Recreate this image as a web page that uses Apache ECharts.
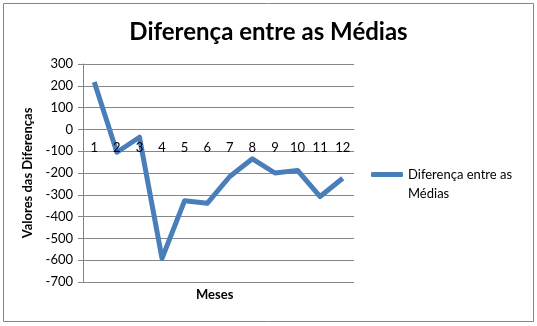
<!DOCTYPE html>
<html>
<head>
<meta charset="utf-8">
<script src="https://cdn.jsdelivr.net/npm/echarts@6/dist/echarts.min.js"></script>
<style>html,body{margin:0;padding:0;background:#fff}#c{width:537px;height:326px}</style>
</head>
<body>
<div id="c"></div>
<script>
var categories = ['1','2','3','4','5','6','7','8','9','10','11','12'];
var diferenca = [217, -105, -36, -592, -327, -339, -216, -135, -200, -188, -308, -224];
var seriesName = 'Diferença entre as Médias';
var titleText = 'Diferença entre as Médias';
var yName = 'Valores das Diferenças';
var xName = 'Meses';
var yMin = -700, yMax = 300, yStep = 100;

var FONT = 'Lato, "Open Sans", sans-serif';
var gridTop = 64, gridBottom = 44, H = 326;
var plotH = H - gridTop - gridBottom;
var zeroOffset = -plotH * (0 - yMin) / (yMax - yMin);

var chart = echarts.init(document.getElementById('c'), null, {renderer: 'canvas'});
chart.setOption({
  backgroundColor: '#fff',
  animation: false,
  title: {
    text: titleText, left: 'center', top: 15,
    textStyle: {fontFamily: FONT, fontSize: 24, fontWeight: 'bold', color: '#000'}
  },
  legend: {
    data: [seriesName], left: 371, top: 168, padding: 0,
    itemWidth: 32, itemHeight: 5,
    icon: 'roundRect',
    formatter: function () { return 'Diferença entre as'; },
    textStyle: {fontFamily: FONT, fontSize: 13, color: '#000'}
  },
  grid: {left: 83, right: 183, top: gridTop, bottom: gridBottom},
  xAxis: {
    type: 'category', data: categories, boundaryGap: true,
    position: 'bottom', offset: zeroOffset, z: 5,
    axisLine: {onZero: false, lineStyle: {color: '#868686', width: 1}},
    axisTick: {show: false},
    axisLabel: {fontFamily: FONT, fontSize: 13, color: '#000', margin: 12, interval: 0}
  },
  yAxis: {
    type: 'value', min: yMin, max: yMax, interval: yStep,
    axisLine: {show: true, lineStyle: {color: '#868686'}},
    axisTick: {show: true, length: 5, lineStyle: {color: '#868686'}},
    splitLine: {lineStyle: {color: '#868686', width: 1}},
    axisLabel: {fontFamily: FONT, fontSize: 13, color: '#000', margin: 10},
    name: yName, nameLocation: 'middle', nameGap: 46, nameRotate: 90,
    nameTextStyle: {fontFamily: FONT, fontSize: 13, fontWeight: 'bold', color: '#000'}
  },
  graphic: [
    {type: 'rect', shape: {x: 3.5, y: 3.5, width: 530, height: 318}, style: {fill: 'none', stroke: '#868686', lineWidth: 1}, silent: true},
    {type: 'text', left: 196, top: 288, style: {text: xName, font: 'bold 13px ' + FONT, fill: '#000'}},
    {type: 'text', left: 408, top: 187, style: {text: 'Médias', font: '13px ' + FONT, fill: '#000'}}
  ],
  series: [{
    name: seriesName, type: 'line', data: diferenca,
    symbol: 'none', lineStyle: {width: 5, color: '#4a7ebb', join: 'round'}, itemStyle: {color: '#4a7ebb'}
  }]
});
</script>
</body>
</html>
